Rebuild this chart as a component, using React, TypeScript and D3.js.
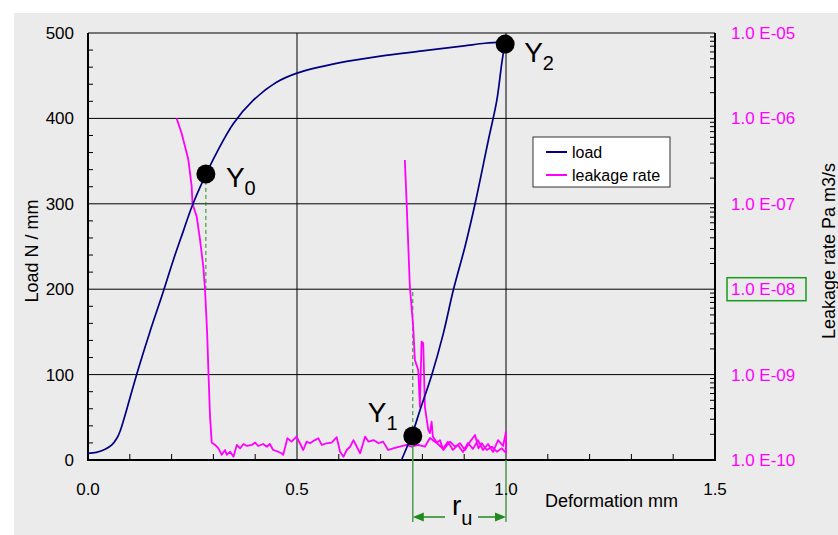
import React from "react";
import { scaleLinear, scaleLog, line, range, format, curveCatmullRom, maxIndex } from "d3";

// load curve: loading up to Y2, then unloading back to zero load
const loadDeformation = [
  0.0, 0.02, 0.041, 0.057, 0.069, 0.077, 0.086, 0.1, 0.12, 0.148, 0.18, 0.204, 0.228,
  0.248, 0.276, 0.308, 0.348, 0.395, 0.45, 0.5, 0.6, 0.7, 0.8, 0.9, 0.95, 0.998,
  0.99, 0.978, 0.958, 0.926, 0.902, 0.874, 0.85, 0.822, 0.794, 0.776, 0.75,
];
const loadValues = [
  7.8, 9, 12.5, 17.6, 25.4, 34, 48, 72, 106, 150, 197, 234, 268,
  296, 328, 360, 394, 421, 442, 453, 465, 473, 479, 485, 488, 490,
  465, 421, 375, 300, 250, 199, 148, 99, 58, 31, 0,
];

// leakage rate, Pa m3/s
const leakDeformation = [
  0.212, 0.224, 0.24, 0.248, 0.25, 0.26, 0.268, 0.276, 0.28, 0.285, 0.289, 0.292, 0.296,
  0.304, 0.312, 0.32, 0.328, 0.332, 0.34, 0.348, 0.356, 0.364, 0.372, 0.38, 0.392, 0.4,
  0.407, 0.419, 0.428, 0.435, 0.443, 0.455, 0.463, 0.467, 0.477, 0.487, 0.499, 0.507,
  0.515, 0.523, 0.531, 0.543, 0.551, 0.559, 0.571, 0.583, 0.595, 0.603, 0.611, 0.619,
  0.627, 0.635, 0.643, 0.651, 0.663, 0.671, 0.683, 0.695, 0.706, 0.718, 0.73, 0.746,
  0.762, 0.774, 0.79, 0.806, 0.818, 0.834, 0.842, 0.85, 0.866, 0.878, 0.89, 0.902,
  0.914, 0.926, 0.934, 0.942, 0.954, 0.966, 0.978, 0.99, 1.0,
  1.0, 0.993, 0.981, 0.969, 0.957, 0.945, 0.933, 0.921, 0.909, 0.897, 0.885, 0.873,
  0.861, 0.849, 0.837, 0.825, 0.822, 0.818, 0.814, 0.806, 0.802, 0.798, 0.794, 0.79,
  0.782, 0.778, 0.77, 0.762, 0.758,
];
const leakValues = [
  1.0e-6, 6.7e-7, 3.3e-7, 1.6e-7, 1.0e-7, 7.1e-8, 3.8e-8, 1.8e-8, 9.8e-9, 3.1e-9, 8.0e-10, 3.2e-10, 1.6e-10,
  1.5e-10, 1.37e-10, 1.15e-10, 1.31e-10, 1.15e-10, 1.25e-10, 1.09e-10, 1.5e-10, 1.37e-10, 1.54e-10, 1.46e-10, 1.5e-10, 1.6e-10,
  1.46e-10, 1.54e-10, 1.43e-10, 1.54e-10, 1.31e-10, 1.25e-10, 1.2e-10, 1.15e-10, 1.8e-10, 1.64e-10, 1.88e-10, 1.57e-10,
  1.31e-10, 1.64e-10, 1.57e-10, 1.71e-10, 1.8e-10, 1.5e-10, 1.57e-10, 1.6e-10, 1.85e-10, 1.25e-10, 1.09e-10, 1.31e-10,
  1.43e-10, 1.71e-10, 1.43e-10, 1.2e-10, 1.88e-10, 1.64e-10, 1.71e-10, 1.57e-10, 1.64e-10, 1.31e-10, 1.37e-10, 1.43e-10,
  1.5e-10, 1.43e-10, 1.5e-10, 1.43e-10, 1.81e-10, 1.58e-10, 1.71e-10, 1.31e-10, 1.64e-10, 1.43e-10, 1.57e-10, 1.31e-10,
  1.64e-10, 1.96e-10, 1.37e-10, 1.57e-10, 1.31e-10, 1.43e-10, 1.25e-10, 1.37e-10, 1.21e-10,
  2.14e-10, 1.46e-10, 1.71e-10, 1.24e-10, 1.54e-10, 1.31e-10, 1.71e-10, 1.35e-10, 1.58e-10, 1.24e-10, 1.5e-10, 1.31e-10,
  1.63e-10, 1.35e-10, 1.54e-10, 1.88e-10, 2.81e-10, 2.07e-10, 2.25e-10, 4.2e-10, 2.34e-9, 2.43e-9, 4.2e-10, 1.13e-9,
  1.48e-9, 3.64e-9, 1.07e-8, 1.11e-7, 3.26e-7,
];

// marked points on the load curve
const pointNames = ["Y0", "Y1", "Y2"];
const pointDeformation = [0.282, 0.777, 0.998];
const pointLoad = [335, 28, 487];

const leakThreshold = 1e-8;
const xTicks = [0, 0.5, 1.0, 1.5];
const loadTicks = [0, 100, 200, 300, 400, 500];
const leakTicks = [1e-5, 1e-6, 1e-7, 1e-8, 1e-9, 1e-10];

const FONT = "'Liberation Sans', Arial, sans-serif";
const GREEN = "#1f8a1f";

export default function App() {
  const x = scaleLinear().domain([0, 1.5]).range([88, 715]);
  const yL = scaleLinear().domain([0, 500]).range([460, 33]);
  const yR = scaleLog().domain([1e-10, 1e-5]).range([460, 33]);

  // split load into loading and unloading branches at the peak
  const peak = maxIndex(loadValues);
  const idx = range(loadValues.length);
  const loadLine = line<number>()
    .curve(curveCatmullRom.alpha(0.5))
    .x((i) => x(loadDeformation[i]))
    .y((i) => yL(loadValues[i]));
  const loadingPath = loadLine(idx.slice(0, peak + 1));
  const unloadingPath = loadLine(idx.slice(peak));

  const leakPath = line<number>()
    .x((i) => x(leakDeformation[i]))
    .y((i) => yR(leakValues[i]))(range(leakValues.length));

  const fmt1 = format(".1f");
  const expLabel = (v: number) => {
    const e = Math.round(Math.log10(v));
    return "1.0 E-" + String(-e).padStart(2, "0");
  };

  const minorLoad = range(20, 500, 20).filter((v) => v % 100 !== 0);
  const minorX = range(1, 15).map((v) => v / 10).filter((v) => Math.abs(v * 2 - Math.round(v * 2)) > 1e-6);
  const minorLeak: number[] = [];
  for (let e = -10; e < -5; e++) for (let m = 2; m <= 9; m++) minorLeak.push(m * Math.pow(10, e));

  const pts = pointNames.map((n, i) => ({ n, px: x(pointDeformation[i]), py: yL(pointLoad[i]) }));
  const thrY = yR(leakThreshold);
  const y0 = yL(0);
  const arrowY = 517;
  const x1 = pts[1].px;
  const x2 = x(1.0);
  const labelOffsets = [
    [20, 13],
    [-45, -14],
    [19, 18],
  ];

  return (
    <svg
      width={838}
      height={535}
      style={{ position: "absolute", left: 0, top: 0, fontFamily: FONT }}
    >
      <rect x={0} y={0} width={838} height={535} fill="#fff" />
      <rect x={14} y={13} width={824} height={522} fill="#ebebeb" />

      {/* gridlines */}
      {loadTicks.slice(1, -1).map((t) => (
        <line key={"g" + t} x1={x(0)} x2={x(1.5)} y1={yL(t)} y2={yL(t)} stroke="#000" strokeWidth={1} />
      ))}
      {[0.5, 1.0].map((t) => (
        <line key={"gv" + t} x1={x(t)} x2={x(t)} y1={yL(0)} y2={yL(500)} stroke="#000" strokeWidth={1} />
      ))}
      <line x1={x(0)} x2={x(1.5)} y1={yL(500)} y2={yL(500)} stroke="#000" strokeWidth={1} />

      {/* minor ticks */}
      {minorLoad.map((t) => (
        <line key={"ml" + t} x1={x(0)} x2={x(0) + 5} y1={yL(t)} y2={yL(t)} stroke="#000" />
      ))}
      {minorX.map((t) => (
        <line key={"mx" + t} x1={x(t)} x2={x(t)} y1={y0} y2={y0 - 6} stroke="#000" />
      ))}
      {minorLeak.map((t) => (
        <line key={"mr" + t} x1={x(1.5) - 5} x2={x(1.5)} y1={yR(t)} y2={yR(t)} stroke="#000" />
      ))}

      {/* axes */}
      <line x1={x(0)} x2={x(0)} y1={yL(0)} y2={yL(500)} stroke="#000" strokeWidth={2} />
      <line x1={x(1.5)} x2={x(1.5)} y1={yL(0) + 1} y2={yL(500)} stroke="#000" strokeWidth={2} />
      <line x1={x(0) - 1} x2={x(1.5) + 1} y1={yL(0)} y2={yL(0)} stroke="#000" strokeWidth={2} />

      {/* threshold drop lines */}
      <line x1={pts[0].px} x2={pts[0].px} y1={pts[0].py} y2={thrY} stroke={GREEN} strokeWidth={1} strokeDasharray="4,3" />
      <line x1={x1} x2={x1} y1={pts[1].py} y2={thrY} stroke={GREEN} strokeWidth={1} strokeDasharray="4,3" />

      {/* series */}
      <path d={leakPath ?? ""} fill="none" stroke="#ff00ff" strokeWidth={1.8} strokeLinejoin="round" />
      <path d={loadingPath ?? ""} fill="none" stroke="#000080" strokeWidth={1.7} />
      <path d={unloadingPath ?? ""} fill="none" stroke="#000080" strokeWidth={1.7} />

      {/* marked points */}
      {pts.map((p, i) => (
        <g key={p.n}>
          <circle cx={p.px} cy={p.py} r={9.5} fill="#000" />
          <text x={p.px + labelOffsets[i][0]} y={p.py + labelOffsets[i][1]} fontSize={28} fill="#000">
            Y
            <tspan fontSize={20} dy={8}>
              {p.n.slice(1)}
            </tspan>
          </text>
        </g>
      ))}

      {/* r_u dimension */}
      <line x1={x1} x2={x1} y1={pts[1].py + 9} y2={522} stroke="#4c9a4c" strokeWidth={1.5} />
      <line x1={x2} x2={x2} y1={y0} y2={522} stroke="#4c9a4c" strokeWidth={1.5} />
      <line x1={x1 + 8} x2={445} y1={arrowY} y2={arrowY} stroke={GREEN} strokeWidth={1.5} />
      <line x1={478} x2={x2 - 8} y1={arrowY} y2={arrowY} stroke={GREEN} strokeWidth={1.5} />
      <path d={`M${x1},${arrowY} l11,-4.5 l0,9 z`} fill={GREEN} />
      <path d={`M${x2},${arrowY} l-11,-4.5 l0,9 z`} fill={GREEN} />
      <text x={452} y={515} fontSize={28} fill="#000">
        r
        <tspan fontSize={20} dy={10}>
          u
        </tspan>
      </text>

      {/* tick labels */}
      {loadTicks.map((t) => (
        <text key={"tl" + t} x={74} y={yL(t) + 6} textAnchor="end" fontSize={17} fill="#000">
          {t}
        </text>
      ))}
      {xTicks.map((t) => (
        <text key={"tx" + t} x={x(t)} y={495} textAnchor="middle" fontSize={17} fill="#000">
          {fmt1(t)}
        </text>
      ))}
      {leakTicks.map((t) => (
        <text key={"tr" + t} x={731} y={yR(t) + 6} fontSize={17} fill="#ff00ff">
          {expLabel(t)}
        </text>
      ))}
      <rect x={727} y={yR(leakThreshold) - 11.5} width={79} height={23} fill="none" stroke="#1a9a1a" strokeWidth={1.5} />

      {/* axis titles */}
      <text x={545} y={507} fontSize={18} fill="#000">
        Deformation mm
      </text>
      <text transform="translate(38,251) rotate(-90)" textAnchor="middle" fontSize={18} fill="#000">
        Load N / mm
      </text>
      <text transform="translate(835,251) rotate(-90)" textAnchor="middle" fontSize={18} fill="#000">
        Leakage rate Pa m3/s
      </text>

      {/* legend */}
      <rect x={533} y={137} width={137} height={50} fill="#fff" stroke="#333" strokeWidth={1} />
      <line x1={546} x2={567} y1={152} y2={152} stroke="#000080" strokeWidth={2} />
      <line x1={546} x2={567} y1={175} y2={175} stroke="#ff00ff" strokeWidth={2} />
      <text x={572} y={157.5} fontSize={16} fill="#000">
        load
      </text>
      <text x={572} y={180.5} fontSize={16} fill="#000">
        leakage rate
      </text>
    </svg>
  );
}
